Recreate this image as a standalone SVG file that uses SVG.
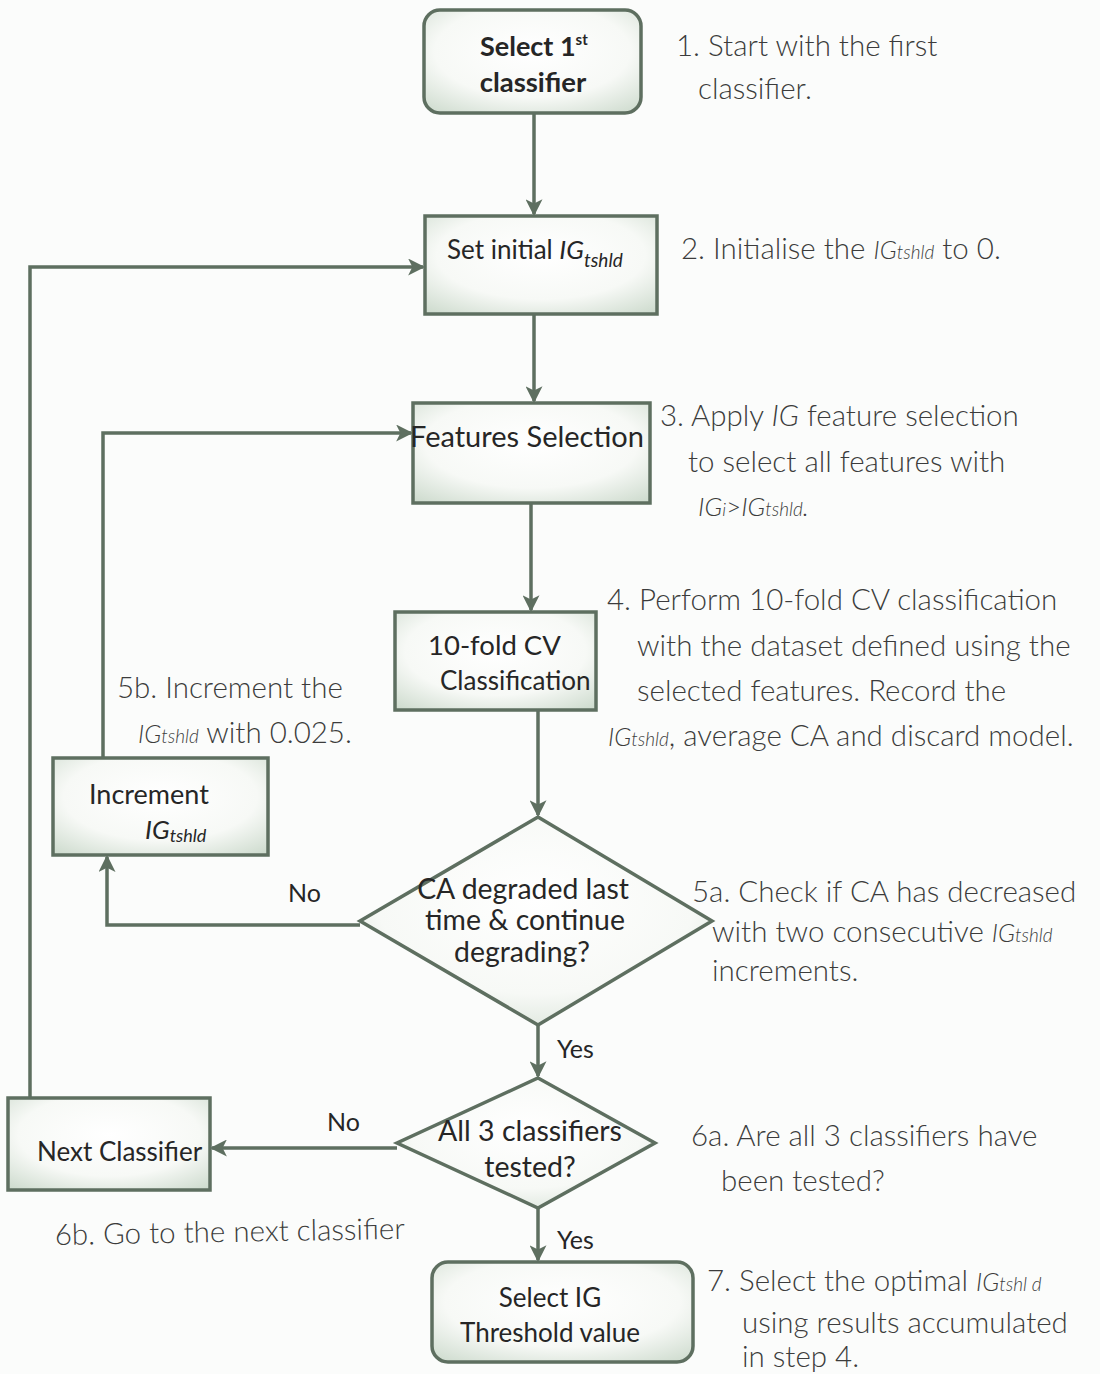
<svg xmlns="http://www.w3.org/2000/svg" width="1100" height="1374" viewBox="0 0 1100 1374">
  <defs>
    <radialGradient id="boxFill" cx="50%" cy="40%" r="75%">
      <stop offset="0" stop-color="#ffffff"/>
      <stop offset="0.6" stop-color="#f7f9f6"/>
      <stop offset="1" stop-color="#cfdccf"/>
    </radialGradient>
    <marker id="arrow" viewBox="0 0 16 16" refX="14" refY="8" markerWidth="17" markerHeight="17" markerUnits="userSpaceOnUse" orient="auto">
      <path d="M0,0 L16,8 L0,16 L4,8 Z" fill="#5e6f60"/>
    </marker>
  </defs>
  <style>
    .shape { fill: url(#boxFill); stroke: #5e6f60; stroke-width: 3.5; }
    .wire { fill: none; stroke: #5e6f60; stroke-width: 3.5; marker-end: url(#arrow); }
    .label { font-family: Lato, "Liberation Sans", sans-serif; font-size: 26px; fill: #262626; }
    .bold { font-weight: bold; }
    .note { font-family: Lato, "Liberation Sans", sans-serif; font-weight: 300; font-size: 29.5px; fill: #3c3c3c; }
    .it { font-style: italic; }
    .ig { font-style: italic; font-size: 25px; }
    .ts { font-style: italic; font-size: 19px; }
    .flag { font-family: Lato, "Liberation Sans", sans-serif; font-size: 25px; fill: #262626; }
  </style>
  <rect width="1100" height="1374" fill="#fbfcfb"/>

  <!-- connectors -->
  <g id="connectors">
    <path class="wire" d="M534,113 L534,214"/>
    <path class="wire" d="M534,314 L534,401"/>
    <path class="wire" d="M531,503 L531,610"/>
    <path class="wire" d="M538,710 L538,815"/>
    <path class="wire" d="M360,925 L107,925 L107,857"/>
    <path class="wire" d="M103,758 L103,433 L411,433"/>
    <path class="wire" d="M538,1025 L538,1076"/>
    <path class="wire" d="M397,1148 L212,1148"/>
    <path class="wire" d="M30,1098 L30,267 L423,267"/>
    <path class="wire" d="M538,1208 L538,1260"/>
    <text class="flag" x="288" y="902">No</text>
    <text class="flag" x="557" y="1058">Yes</text>
    <text class="flag" x="327" y="1131">No</text>
    <text class="flag" x="557" y="1249">Yes</text>
  </g>

  <!-- step 1 -->
  <g id="select-first">
    <rect class="shape" x="424" y="10" width="217" height="103" rx="16"/>
    <text class="label bold" x="480" y="56" style="font-size:27px">Select 1<tspan style="font-size:15px" dy="-11">st</tspan></text>
    <text class="label bold" x="533" y="92" style="font-size:27.5px" text-anchor="middle">classifier</text>
  </g>

  <!-- step 2 -->
  <g id="set-threshold">
    <rect class="shape" x="425" y="216" width="232" height="98"/>
    <text class="label" x="447" y="259">Set initial <tspan class="it">IG</tspan><tspan class="ts" dy="8">tshld</tspan></text>
  </g>

  <!-- step 3 -->
  <g id="feature-selection">
    <rect class="shape" x="413" y="403" width="237" height="100"/>
    <text class="label" x="527" y="447" text-anchor="middle" style="font-size:29px">Features Selection</text>
  </g>

  <!-- step 4 -->
  <g id="cv-classification">
    <rect class="shape" x="395" y="612" width="201" height="98"/>
    <text class="label" x="428" y="655" style="font-size:27.5px">10-fold CV</text>
    <text class="label" x="440" y="690">Classification</text>
  </g>

  <!-- decision: CA degrading -->
  <g id="ca-degraded">
    <polygon class="shape" points="538,817 712,921 538,1025 360,921"/>
    <text class="label" x="523" y="899" style="font-size:28.4px" text-anchor="middle">CA degraded last</text>
    <text class="label" x="525" y="930" style="font-size:28.4px" text-anchor="middle">time &amp; continue</text>
    <text class="label" x="522" y="962" style="font-size:28.4px" text-anchor="middle">degrading?</text>
  </g>

  <!-- increment threshold -->
  <g id="increment">
    <rect class="shape" x="53" y="758" width="215" height="97"/>
    <text class="label" x="89" y="804" style="font-size:27px">Increment</text>
    <text class="label it" x="145" y="839">IG<tspan style="font-size:18px" dy="3">tshld</tspan></text>
  </g>

  <!-- decision: all classifiers tested -->
  <g id="all-tested">
    <polygon class="shape" points="538,1078 655,1143 538,1208 397,1143"/>
    <text class="label" x="530" y="1141" style="font-size:28.5px" text-anchor="middle">All 3 classifiers</text>
    <text class="label" x="530" y="1177" style="font-size:28.5px" text-anchor="middle">tested?</text>
  </g>

  <!-- next classifier -->
  <g id="next-classifier">
    <rect class="shape" x="8" y="1098" width="202" height="92"/>
    <text class="label" x="37" y="1161">Next Classifier</text>
  </g>

  <!-- step 7 -->
  <g id="select-threshold">
    <rect class="shape" x="432" y="1262" width="261" height="100" rx="16"/>
    <text class="label" x="550" y="1307" text-anchor="middle">Select IG</text>
    <text class="label" x="550" y="1342" text-anchor="middle">Threshold value</text>
  </g>

  <!-- step notes -->
  <g id="notes">
    <text class="note" x="676" y="56">1. Start with the first</text>
    <text class="note" x="698" y="99">classifier.</text>

    <text class="note" x="681" y="259">2. Initialise the <tspan class="ig">IG</tspan><tspan class="ts">tshld</tspan> to 0.</text>

    <text class="note" x="660" y="426">3. Apply <tspan class="it">IG</tspan> feature selection</text>
    <text class="note" x="688" y="472">to select all features with</text>
    <text class="note it" x="698" y="516" style="font-size:26px">IG<tspan style="font-size:18px">i</tspan><tspan font-style="normal">&gt;</tspan>IG<tspan style="font-size:19px">tshld</tspan>.</text>

    <text class="note" x="607" y="610">4. Perform 10-fold CV classification</text>
    <text class="note" x="637" y="656">with the dataset defined using the</text>
    <text class="note" x="637" y="701">selected features. Record the</text>
    <text class="note" x="608" y="746"><tspan class="ig">IG</tspan><tspan class="ts">tshld</tspan>, average CA and discard model.</text>

    <text class="note" x="117" y="698">5b. Increment the</text>
    <text class="note" x="138" y="743"><tspan class="ig">IG</tspan><tspan class="ts">tshld</tspan> with 0.025.</text>

    <text class="note" x="692" y="902">5a. Check if CA has decreased</text>
    <text class="note" x="712" y="942">with two consecutive <tspan class="ig">IG</tspan><tspan class="ts">tshld</tspan></text>
    <text class="note" x="712" y="981">increments.</text>

    <text class="note" x="691" y="1146">6a. Are all 3 classifiers have</text>
    <text class="note" x="721" y="1191">been tested?</text>

    <text class="note" x="55" y="1245" transform="rotate(-1 55 1245)">6b. Go to the next classifier</text>

    <text class="note" x="707" y="1291">7. Select the optimal <tspan class="ig">IG</tspan><tspan class="ts">tshl d</tspan></text>
    <text class="note" x="742" y="1333">using results accumulated</text>
    <text class="note" x="742" y="1367">in step 4.</text>
  </g>
</svg>
